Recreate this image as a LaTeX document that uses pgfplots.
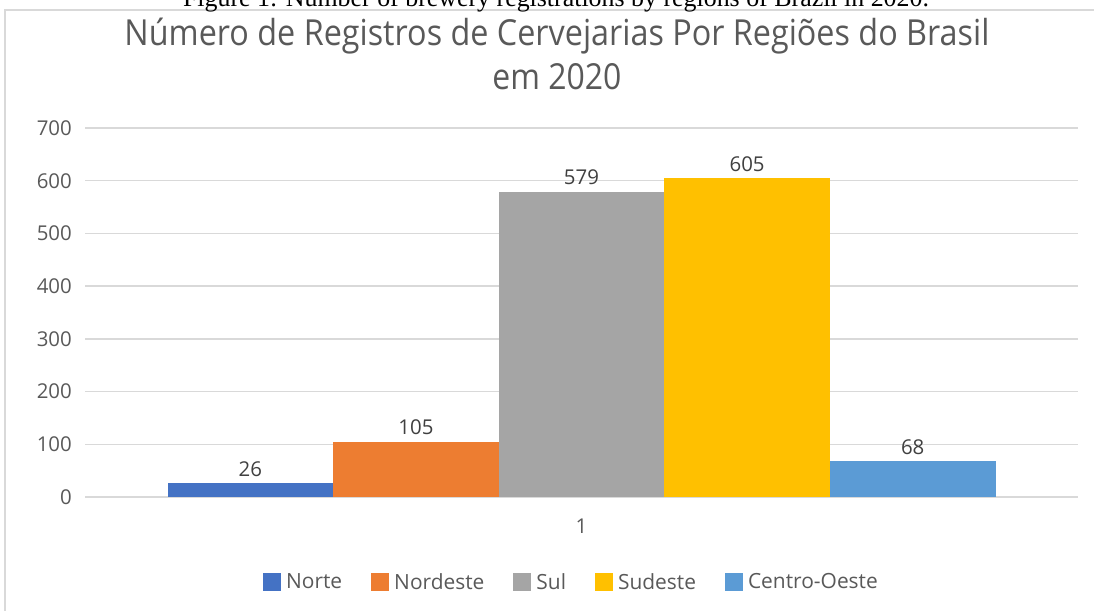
\documentclass[border=0pt]{standalone}
\usepackage{fontspec}
\setmainfont{Open Sans}
\newfontfamily\capfont{Liberation Serif}
\usepackage{graphicx}
\usepackage{pgfplots}
\pgfplotsset{compat=1.18}
\definecolor{gridc}{HTML}{D9D9D9}
\definecolor{labc}{HTML}{595959}
\definecolor{datac}{HTML}{404040}
\definecolor{c1}{HTML}{4472C4}
\definecolor{c2}{HTML}{ED7D31}
\definecolor{c3}{HTML}{A5A5A5}
\definecolor{c4}{HTML}{FFC000}
\definecolor{c5}{HTML}{5B9BD5}
\begin{document}
\begin{tikzpicture}[x=1bp,y=1bp]
\path[use as bounding box] (0,0) rectangle (1094,611);
\draw[gridc, line width=1.5bp] (5,601) rectangle (1130,-30);
\node[anchor=base, inner sep=0pt, font=\capfont\fontsize{26}{30}\selectfont] at (556,604) {Figure 1: Number of brewery registrations by regions of Brazil in 2020.};
\node[anchor=base, inner sep=0pt, text=labc] at (557,565) {\resizebox{865bp}{\height}{\fontsize{36}{40}\selectfont Número de Registros de Cervejarias Por Regiões do Brasil}};
\node[anchor=base, inner sep=0pt, text=labc] at (557,521) {\resizebox{129bp}{\height}{\fontsize{36}{40}\selectfont em 2020}};
\begin{axis}[
  at={(85bp,114bp)}, anchor=south west,
  scale only axis, width=993bp, height=369bp,
  xmin=0, xmax=2, ymin=0, ymax=700,
  ytick={0,100,...,700}, xtick={1}, xticklabels={1},
  axis line style={draw=none},
  ymajorgrids, grid style={gridc, line width=1.5bp},
  major tick length=0pt,
  /pgf/number format/assume math mode=true,
  tick label style={font=\fontsize{20.5}{24}\selectfont, text=labc},
  yticklabel style={anchor=east, inner sep=0pt, xshift=-13bp},
  xticklabel style={anchor=north, inner sep=0pt, yshift=-22bp},
  ybar=0pt, bar width=165.6bp,
  nodes near coords,
  nodes near coords style={font=\fontsize{20.5}{24}\selectfont, text=datac, inner sep=0pt, anchor=south, yshift=6.5bp},
  every axis plot post/.append style={draw=none,
    legend image code/.code={\fill[##1] (0bp,-9bp) rectangle (18bp,9bp);}},
  legend columns=5,
  legend style={at={(axis description cs:0.4889,-0.2304)}, anchor=center, draw=none,
    font=\fontsize{21}{24}\selectfont, text=labc,
    nodes={inner sep=0pt},
    /tikz/every odd column/.append style={column sep=5bp},
    /tikz/every even column/.append style={column sep=29bp}},
]
\addplot[fill=c1] coordinates {(1,26)};
\addplot[fill=c2] coordinates {(1,105)};
\addplot[fill=c3] coordinates {(1,579)};
\addplot[fill=c4] coordinates {(1,605)};
\addplot[fill=c5] coordinates {(1,68)};
\legend{Norte,Nordeste,Sul,Sudeste,Centro-Oeste}
\end{axis}
\end{tikzpicture}
\end{document}
